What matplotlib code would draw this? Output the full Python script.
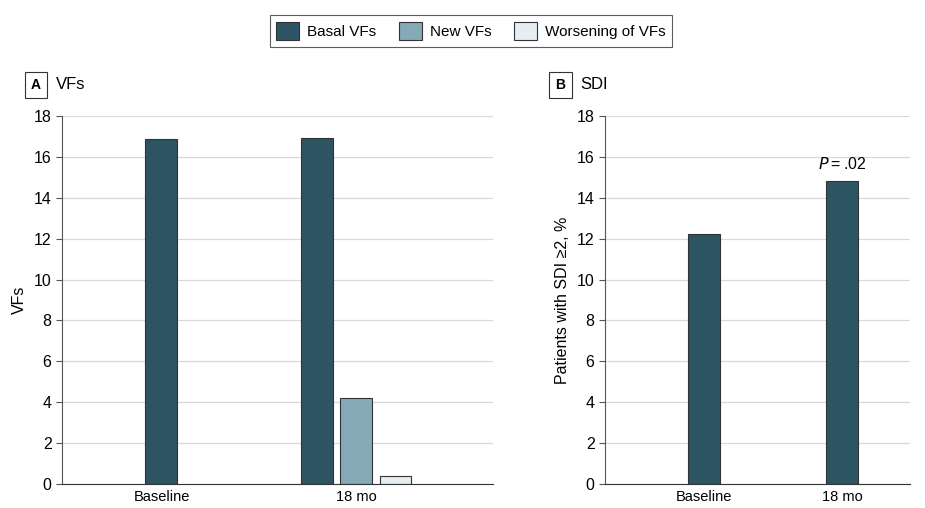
import numpy as np
import matplotlib.pyplot as plt
from matplotlib.patches import Patch

# data
groups = ["Baseline", "18 mo"]
series = ["Basal VFs", "New VFs", "Worsening of VFs"]
vfs_basal = [16.85, 16.9]
vfs_new = [4.2]
vfs_worse = [0.4]
sdi = [12.2, 14.8]
yticks = [0, 2, 4, 6, 8, 10, 12, 14, 16, 18]

colors = ["#2d5462", "#86a9b7", "#e6eef1"]
edge = "#333333"
plt.rcParams["font.family"] = ["Liberation Sans", "DejaVu Sans"]
plt.rcParams["font.size"] = 10.5

fig = plt.figure(figsize=(9.25, 5.08), dpi=100)
axA = fig.add_axes([0.067, 0.047, 0.466, 0.725])
axB = fig.add_axes([0.654, 0.047, 0.330, 0.725])

def style(ax):
    ax.set_ylim(0, 18)
    ax.set_yticks(yticks)
    ax.grid(axis="y", color="#d9d9d9", lw=0.9)
    ax.set_axisbelow(True)
    for s in ["top", "right"]:
        ax.spines[s].set_visible(False)
    ax.spines["left"].set_color("#555555")
    ax.spines["bottom"].set_color("#333333")
    ax.tick_params(axis="y", length=4, color="#555555", labelsize=11.5)
    ax.tick_params(axis="x", length=0, labelsize=10.5, pad=4)

# panel A
w = 0.164
off = 0.2
axA.bar([0, 1 - off], vfs_basal, w, color=colors[0], edgecolor=edge, lw=0.8)
axA.bar([1], vfs_new, w, color=colors[1], edgecolor=edge, lw=0.8)
axA.bar([1 + off], vfs_worse, w, color=colors[2], edgecolor=edge, lw=0.8)
axA.set_xlim(-0.51, 1.70)
axA.set_xticks([0, 1])
axA.set_xticklabels(groups)
axA.set_ylabel("VFs", fontsize=11.5, labelpad=5)
style(axA)

# panel B
axB.bar([0, 1], sdi, 0.232, color=colors[0], edgecolor=edge, lw=0.8)
axB.set_xlim(-0.717, 1.49)
axB.set_xticks([0, 1])
axB.set_xticklabels(groups)
axB.set_ylabel("Patients with SDI \u22652, %", fontsize=11.5, labelpad=5)
axB.text(1, sdi[1] + 0.45, "$P$\u2009=\u2009.02", ha="center", va="bottom", fontsize=11.5)
style(axB)

# panel tags
for x, tag, title in [(0.039, "A", "VFs"), (0.606, "B", "SDI")]:
    fig.text(x, 0.833, tag, ha="center", va="center", fontsize=10, fontweight="bold",
             bbox=dict(boxstyle="square,pad=0.45", fc="white", ec="#333333", lw=0.8))
    fig.text(x + 0.021, 0.833, title, ha="left", va="center", fontsize=12)

handles = [Patch(fc=c, ec=edge, lw=0.8) for c in colors]
leg = fig.legend(handles, series, loc="center", bbox_to_anchor=(0.509, 0.939), ncol=3,
                 frameon=True, fancybox=False, edgecolor="#333333", fontsize=11,
                 handlelength=1.5, handleheight=1.5, columnspacing=1.5, handletextpad=0.5,
                 borderpad=0.45)
leg.get_frame().set_linewidth(0.8)

fig.savefig("out.png", dpi=100)
